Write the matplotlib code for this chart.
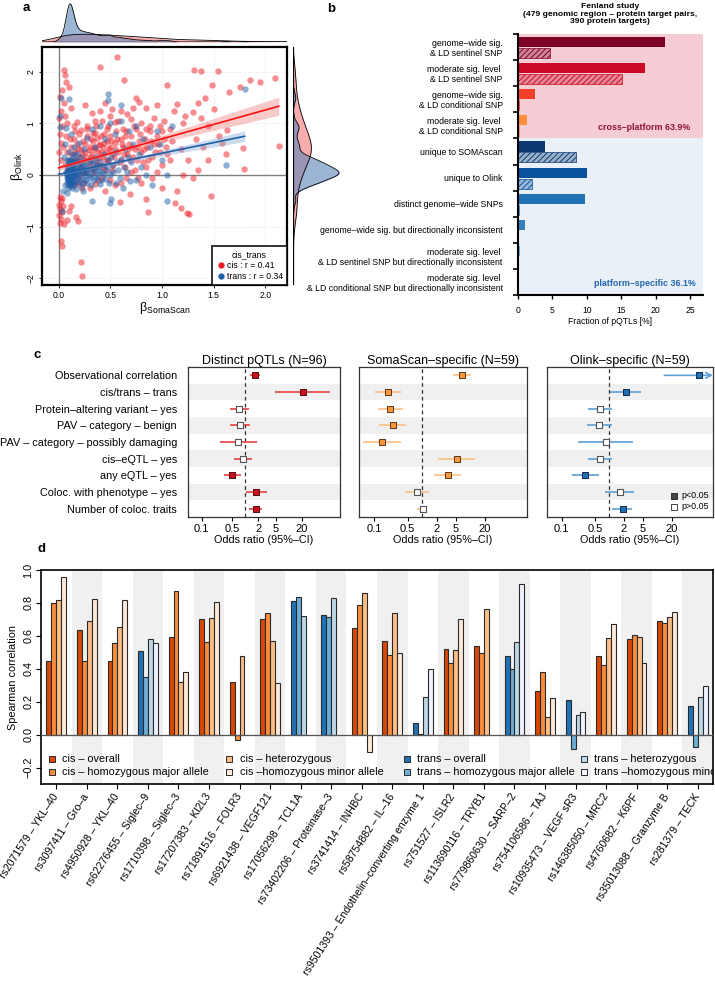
import numpy as np
import matplotlib
matplotlib.use('Agg')
import matplotlib.pyplot as plt
from matplotlib.lines import Line2D
from matplotlib.colors import to_rgba

plt.rcParams['font.family'] = ['Liberation Sans', 'DejaVu Sans']
plt.rcParams['mathtext.fontset'] = 'custom'
plt.rcParams['mathtext.rm'] = 'Liberation Sans'
plt.rcParams['mathtext.it'] = 'Liberation Sans:italic'
plt.rcParams['hatch.linewidth'] = 0.7

# ---------------- Panel a data ----------------
cis_points = [
    (0.57, 2.29), (0.05, 2.03), (0.06, 1.93), (0.07, 1.80), (0.40, 2.10), (1.31, 2.03), (1.38, 2.02), (1.54, 2.02),
    (1.85, 1.84), (1.95, 1.80), (2.09, 1.88), (1.76, 1.70), (1.48, 1.74), (1.05, 1.74), (0.63, 1.85), (1.65, 1.60),
    (1.42, 1.50), (2.13, 0.56), (1.78, 0.52), (1.79, 0.12), (1.63, 0.88), (1.26, -0.75), (1.24, -0.74), (1.13, -0.55),
    (1.18, -0.63), (0.87, -0.72), (0.85, -0.47), (0.69, -0.37), (0.59, -0.52), (0.22, -1.68), (0.23, -1.95),
    (0.02, -1.27), (0.03, -1.37),
    (0.01, -0.42), (0.02, -0.50), (0.00, -0.58), (0.01, -0.66), (0.03, -0.72), (0.00, -0.78), (0.02, -0.85),
    (0.01, -0.92), (0.04, -0.60), (0.03, -0.45), (0.10, -0.70), (0.17, -0.82), (0.19, -0.90), (0.08, -0.88),
    (0.12, -0.60), (0.05, -0.95),
    (0.01, 1.52), (0.02, 1.25), (0.00, 1.10), (0.03, 0.95), (0.01, 0.80), (0.02, 0.62), (0.04, 0.55), (0.00, 0.45),
    (0.05, 1.40), (0.06, 1.15), (0.08, 1.00), (0.10, 1.70), (0.12, 1.30), (0.15, 0.95), (0.03, 1.65), (0.02, 0.30),
    (0.18, 1.02), (0.22, 0.88), (0.28, 0.95), (0.35, 1.05), (0.33, 0.82), (0.40, 1.25), (0.45, 1.40), (0.48, 0.95),
    (0.52, 1.28), (0.55, 1.02), (0.60, 1.25), (0.62, 0.90), (0.70, 1.08), (0.75, 1.50), (0.78, 1.42), (0.80, 1.00),
    (0.85, 1.30), (0.88, 0.85), (0.92, 1.10), (0.95, 1.35), (0.98, 0.95), (1.02, 1.05), (1.08, 0.90), (1.12, 1.25),
    (1.15, 1.38), (1.20, 1.00), (1.22, 1.15), (1.30, 1.22), (1.35, 1.40), (1.38, 1.10), (1.45, 0.95), (1.50, 1.28),
    (1.55, 0.75), (1.58, 0.62), (1.62, 0.40), (1.40, 0.55), (1.33, 0.70), (1.25, 0.30), (1.18, 0.50), (1.10, 0.65),
    (1.05, 0.40), (1.00, 0.20), (0.95, 0.05), (0.90, -0.05), (1.20, 0.00), (1.30, -0.05), (1.35, 0.10), (1.45, 0.30),
    (1.47, -0.40), (1.15, -0.30), (1.00, -0.25), (0.80, -0.15),
    (0.10, 0.30), (0.12, 0.55), (0.14, 0.20), (0.15, 0.70), (0.16, 0.45), (0.18, 0.10), (0.18, 0.60), (0.20, 0.35),
    (0.20, 0.80), (0.22, 0.50), (0.22, 0.15), (0.24, 0.65), (0.25, 0.30), (0.26, 0.45), (0.27, 0.05), (0.28, 0.75),
    (0.30, 0.55), (0.30, 0.25), (0.32, 0.40), (0.33, 0.65), (0.34, 0.15), (0.35, 0.50), (0.36, 0.30), (0.37, 0.72),
    (0.38, 0.45), (0.40, 0.60), (0.40, 0.20), (0.42, 0.35), (0.43, 0.55), (0.44, 0.80), (0.45, 0.10), (0.46, 0.45),
    (0.47, 0.65), (0.48, 0.30), (0.50, 0.55), (0.50, 0.75), (0.52, 0.40), (0.53, 0.20), (0.55, 0.62), (0.56, 0.85),
    (0.58, 0.45), (0.60, 0.30), (0.60, 0.70), (0.62, 0.55), (0.64, 0.15), (0.65, 0.85), (0.66, 0.40), (0.68, 0.60),
    (0.70, 0.75), (0.72, 0.35), (0.74, 0.50), (0.75, 0.90), (0.78, 0.65), (0.80, 0.45), (0.82, 0.25), (0.84, 0.70),
    (0.86, 0.55), (0.88, 0.95), (0.90, 0.35), (0.92, 0.60), (0.95, 0.75), (0.98, 0.45), (1.02, 0.70), (0.12, -0.10),
    (0.15, -0.20), (0.20, -0.05), (0.25, -0.15), (0.30, -0.25), (0.38, -0.10), (0.45, -0.30), (0.55, -0.20),
    (0.65, -0.05), (0.70, 0.05), (0.28, 0.90), (0.32, 1.20), (0.26, 1.35), (0.42, 1.05), (0.50, 1.15), (0.36, 0.95),
    (0.58, 1.05), (0.66, 1.18), (0.72, 1.30), (0.06, 0.20), (0.08, 0.45), (0.09, 0.10), (0.11, 0.70), (0.13, 0.40),
    (0.07, 0.75),
    (0.13, 0.05), (0.17, 0.30), (0.19, 0.50), (0.21, 0.25), (0.23, 0.40), (0.24, 0.05), (0.26, 0.60), (0.27, 0.35),
    (0.29, 0.15), (0.29, 0.48), (0.31, 0.70), (0.31, 0.35), (0.33, 0.05), (0.34, 0.55), (0.35, 0.82), (0.37, 0.20),
    (0.39, 0.58), (0.39, 0.33), (0.41, 0.45), (0.41, 0.75), (0.43, 0.15), (0.44, 0.62), (0.46, 0.30), (0.47, 0.90),
    (0.49, 0.50), (0.51, 0.65), (0.52, 0.10), (0.54, 0.35), (0.55, 0.50), (0.57, 0.70), (0.59, 0.25), (0.61, 0.60),
    (0.63, 0.40), (0.64, 0.75), (0.67, 0.50), (0.69, 0.30), (0.71, 0.55), (0.73, 0.95), (0.76, 0.30), (0.77, 0.55),
    (0.79, 0.80), (0.83, 0.50), (0.85, 0.90), (0.87, 0.30), (0.89, 0.65), (0.93, 0.45), (0.96, 0.60), (1.00, 0.85),
    (1.04, 0.55), (1.08, 0.30), (0.16, 0.85), (0.19, -0.15), (0.23, -0.25), (0.35, -0.18), (0.42, -0.05),
    (0.50, -0.10), (0.60, -0.15), (0.74, 0.10), (0.77, -0.05), (0.85, 0.15),
]
trans_points = [
    (0.08, 0.00), (0.09, 0.10), (0.10, -0.05), (0.10, 0.15), (0.11, 0.05), (0.12, -0.12), (0.12, 0.22), (0.13, 0.02),
    (0.14, 0.10), (0.14, -0.08), (0.15, 0.30), (0.16, 0.00), (0.16, -0.18), (0.17, 0.12), (0.18, 0.05), (0.18, -0.05),
    (0.19, 0.20), (0.20, -0.12), (0.20, 0.08), (0.21, 0.00), (0.22, 0.15), (0.22, -0.22), (0.23, 0.05), (0.24, 0.25),
    (0.24, -0.08), (0.25, 0.10), (0.26, 0.00), (0.27, 0.18), (0.28, -0.15), (0.28, 0.08), (0.30, 0.30), (0.30, -0.05),
    (0.31, 0.12), (0.32, 0.02), (0.33, 0.22), (0.34, -0.10), (0.35, 0.08), (0.36, 0.35), (0.38, 0.00), (0.38, 0.15),
    (0.40, -0.18), (0.40, 0.25), (0.42, 0.05), (0.44, 0.40), (0.45, -0.08), (0.46, 0.18), (0.48, 0.30), (0.50, 0.00),
    (0.52, 0.20), (0.55, 0.45), (0.56, -0.15), (0.58, 0.10), (0.60, 0.32), (0.62, -0.25), (0.64, 0.50), (0.66, 0.05),
    (0.70, 0.25), (0.72, 0.60), (0.75, -0.10), (0.78, 0.40), (0.80, 0.15), (0.82, 0.70), (0.85, 0.00), (0.88, 0.55),
    (0.90, -0.20), (0.95, 0.85), (1.00, 0.30), (1.10, 0.95), (1.05, 0.00), (0.98, 0.60),
    (0.05, 0.35), (0.06, 0.60), (0.07, 0.92), (0.10, 0.45), (0.12, 0.80), (0.15, 0.55), (0.18, 0.40), (0.20, 0.62),
    (0.25, 0.50), (0.28, 0.72), (0.32, 0.90), (0.35, 0.55), (0.40, 0.95), (0.45, 0.70), (0.50, 1.00), (0.55, 0.80),
    (0.60, 1.05), (0.68, 0.85), (0.75, 0.95),
    (0.02, 1.50), (0.10, 1.48), (0.48, 1.56), (0.48, 1.46), (1.80, 1.66), (1.62, 0.20), (1.05, -0.50), (0.50, -0.55),
    (0.51, -0.46), (0.32, -0.51), (0.03, -0.70), (0.01, 1.15), (0.01, 0.93), (0.04, -0.30), (0.06, -0.20),
    (0.08, -0.35), (0.60, 1.35),
    (0.07, 0.05), (0.08, -0.15), (0.09, 0.25), (0.10, -0.20), (0.11, 0.30), (0.12, 0.08), (0.13, -0.25), (0.14, 0.18),
    (0.15, -0.02), (0.16, 0.25), (0.17, -0.12), (0.11, -0.02), (0.13, 0.12), (0.09, 0.05), (0.10, 0.02), (0.12, 0.00),
    (0.14, 0.04), (0.08, 0.08), (0.10, 0.08), (0.11, -0.08), (0.09, -0.03), (0.12, 0.04), (0.13, -0.04), (0.10, 0.00),
    (0.19, 0.00), (0.21, 0.12), (0.23, -0.15), (0.25, 0.20), (0.26, -0.10), (0.27, 0.05), (0.29, 0.25), (0.29, -0.02),
    (0.31, -0.20), (0.33, 0.12), (0.34, 0.30), (0.36, -0.05), (0.37, 0.20), (0.39, 0.08), (0.41, -0.10), (0.43, 0.20),
    (0.44, 0.02), (0.47, 0.10), (0.49, -0.15), (0.51, 0.35), (0.53, 0.05), (0.57, 0.25), (0.59, -0.05), (0.63, 0.15),
    (0.67, 0.35), (0.69, -0.12), (0.18, 0.30), (0.20, 0.22), (0.22, 0.35), (0.24, -0.30), (0.17, -0.28), (0.15, 0.40),
    (0.13, 0.35), (0.11, 0.20), (0.09, -0.25), (0.08, 0.30), (0.10, 0.12), (0.12, 0.15), (0.14, -0.15), (0.16, 0.08),
    (0.09, 0.18), (0.10, -0.10), (0.11, 0.12), (0.12, -0.18), (0.13, 0.20), (0.09, -0.08), (0.10, 0.22), (0.11, -0.15),
    (0.12, 0.28), (0.13, -0.10), (0.14, 0.25), (0.10, 0.05), (0.11, 0.10), (0.12, -0.05), (0.13, 0.06), (0.09, 0.14),
    (0.10, -0.14), (0.11, 0.00), (0.12, 0.10), (0.13, -0.18), (0.14, -0.02), (0.08, 0.04), (0.09, -0.10), (0.10, 0.18),
    (0.11, -0.05), (0.12, 0.20), (0.13, 0.00), (0.14, 0.14), (0.10, -0.02), (0.11, 0.16), (0.12, -0.22), (0.13, 0.26),
    (0.08, -0.05), (0.09, 0.00), (0.10, 0.10), (0.11, 0.04),
]
cis_fit = [0.14, 0.56, 2.13]        # intercept, slope, x-extent
trans_fit = [0.013, 0.41, 1.80]
cis_band = [0.035, 0.10, 0.40]      # half-width at centre, growth, centre
trans_band = [0.02, 0.065, 0.25]
legend_a = ['cis : r = 0.41', 'trans : r = 0.34']

# ---------------- Panel b data ----------------
b_categories = [
    'genome\u2013wide sig.\n& LD sentinel SNP',
    'moderate sig. level \n& LD sentinel SNP',
    'genome\u2013wide sig.\n& LD conditional SNP',
    'moderate sig. level \n& LD conditional SNP',
    'unique to SOMAscan',
    'unique to Olink',
    'distinct genome\u2013wide SNPs',
    'genome\u2013wide sig. but directionally inconsistent',
    'moderate sig. level \n& LD sentinel SNP but directionally inconsistent',
    'moderate sig. level \n& LD conditional SNP but directionally inconsistent',
]
b_solid = [21.4, 18.5, 2.4, 1.35, 3.9, 10.1, 9.75, 0.95, 0.3, 0.1]
b_hatched = [4.6, 15.1, 0.15, 0.2, 8.4, 2.1, 0.2, 0.0, 0.0, 0.0]
b_colors = ['#7E0025', '#CB0A26', '#F4402A', '#FD8D3C', '#0B3A73', '#08519C',
            '#2171B5', '#3182BD', '#6BAED6', '#9ECAE1']

# ---------------- Panel c data ----------------
c_rows = ['Observational correlation', 'cis/trans \u2013 trans', 'Protein\u2013altering variant \u2013 yes',
          'PAV \u2013 category \u2013 benign', 'PAV \u2013 category \u2013 possibly damaging', 'cis\u2013eQTL \u2013 yes',
          'any eQTL \u2013 yes', 'Coloc. with phenotype \u2013 yes', 'Number of coloc. traits']
distinct_or = [1.71, 20.6, 0.72, 0.75, 0.70, 0.89, 0.51, 1.74, 1.74]
distinct_lo = [1.27, 4.85, 0.457, 0.44, 0.26, 0.55, 0.32, 1.03, 1.22]
distinct_hi = [2.23, 87.0, 1.22, 1.27, 1.9, 1.46, 0.78, 3.2, 2.48]
distinct_sig = [1, 1, 0, 0, 0, 0, 1, 1, 1]
soma_or = [6.65, 0.195, 0.22, 0.25, 0.146, 5.2, 3.36, 0.78, 1.02]
soma_lo = [4.33, 0.103, 0.12, 0.13, 0.059, 2.13, 1.73, 0.44, 0.78]
soma_hi = [10.2, 0.355, 0.40, 0.47, 0.37, 12.5, 6.4, 1.4, 1.26]
soma_sig = [1, 1, 1, 1, 1, 1, 1, 0, 0]
olink_or = [77.0, 2.22, 0.635, 0.605, 0.83, 0.635, 0.31, 1.64, 1.89]
olink_lo = [14.1, 1.04, 0.36, 0.33, 0.22, 0.36, 0.165, 0.81, 1.13]
olink_hi = [500.0, 4.57, 1.13, 1.13, 3.05, 1.13, 0.59, 3.2, 2.97]
olink_sig = [1, 1, 0, 0, 0, 0, 1, 0, 1]
c_titles = ['Distinct pQTLs (N=96)', 'SomaScan\u2013specific (N=59)', 'Olink\u2013specific (N=59)']
c_ticks = [0.1, 0.5, 2, 5, 20]

# ---------------- Panel d data ----------------
d_labels = ['rs2071579 \u2013 YKL\u201340', 'rs3097411 \u2013 Gro\u2013a', 'rs4950928 \u2013 YKL\u201340',
            'rs62276455 \u2013 Siglec\u20139', 'rs1710398 \u2013 Siglec\u20133', 'rs17207383 \u2013 Kl2L3',
            'rs71891516 \u2013 FOLR3', 'rs6921438 \u2013 VEGF121', 'rs17056298 \u2013 TCL1A',
            'rs73402206 \u2013 Proteinase\u20133', 'rs3741414 \u2013 INHBC', 'rs58754882 \u2013 IL\u201316',
            'rs9501393 \u2013 Endothelin\u2013converting enzyme 1', 'rs751527 \u2013 ISLR2', 'rs113690116 \u2013 TRYB1',
            'rs779860630 \u2013 SARP\u20132', 'rs754106586 \u2013 TAJ', 'rs10935473 \u2013 VEGF sR3',
            'rs146385050 \u2013 MRC2', 'rs4760682 \u2013 K6PF', 'rs35013088 \u2013 Granzyme B', 'rs281379 \u2013 TECK']
d_type = ['cis', 'cis', 'cis', 'trans', 'cis', 'cis', 'cis', 'cis', 'trans', 'trans', 'cis',
          'cis', 'trans', 'cis', 'cis', 'trans', 'cis', 'trans', 'cis', 'cis', 'cis', 'trans']
nan = np.nan
d_overall = [0.45, 0.636, 0.45, 0.509, 0.596, 0.705, 0.319, 0.703, 0.814, 0.727, 0.646,
             0.571, 0.068, 0.521, 0.541, 0.476, 0.264, 0.208, 0.48, 0.582, 0.691, 0.171]
d_hom_major = [0.80, 0.446, 0.557, 0.347, 0.875, 0.561, -0.03, 0.737, 0.834, 0.717, 0.79,
               0.485, 0.006, 0.436, 0.495, 0.398, 0.382, -0.085, 0.424, 0.604, 0.679, -0.075]
d_het = [0.82, 0.693, 0.652, 0.578, 0.319, 0.709, 0.475, 0.567, 0.721, 0.83, 0.858,
         0.739, 0.23, 0.511, 0.764, 0.564, 0.105, 0.117, 0.586, 0.592, 0.717, 0.226]
d_hom_minor = [0.955, 0.824, 0.82, 0.557, 0.378, 0.806, nan, 0.313, nan, nan, -0.105,
               0.497, 0.398, 0.703, nan, 0.915, 0.224, 0.139, 0.67, 0.436, 0.747, 0.293]
d_legend = [['cis \u2013 overall', 'cis \u2013 homozygous major allele'],
            ['cis \u2013 heterozygous', 'cis \u2013homozygous minor allele'],
            ['trans \u2013 overall', 'trans \u2013 homozygous major allele'],
            ['trans \u2013 heterozygous', 'trans \u2013homozygous minor allele']]
cis_cols = ['#D94801', '#FD8D3C', '#FDBE85', '#FEE8D6']
trans_cols = ['#2171B5', '#6BAED6', '#BDD7E7', '#EFF3FF']

# ---------------- Figure ----------------
W, H = 715, 991
fig = plt.figure(figsize=(W / 100, H / 100), dpi=100)


def add_ax(x0, y0, x1, y1):
    return fig.add_axes([x0 / W, 1 - y1 / H, (x1 - x0) / W, (y1 - y0) / H])


RED = '#EE1C25'
BLUE = '#1F5FA8'

# ---- Panel a ----
ax = add_ax(42, 47, 287, 285)
cis = np.array(cis_points)
tr = np.array(trans_points)
ax.set_xlim(-0.16, 2.21)
ax.set_ylim(-2.13, 2.48)
ax.grid(True, color='#E3E3E3', lw=0.5, ls=(0, (2, 2)))
ax.set_axisbelow(True)
ax.axhline(0, color='#7F7F7F', lw=1.0, zorder=1)
ax.axvline(0, color='#7F7F7F', lw=1.0, zorder=1)
ax.scatter(cis[:, 0], cis[:, 1], s=21, color=RED, alpha=0.5, lw=0, zorder=2)
ax.scatter(tr[:, 0], tr[:, 1], s=21, color=BLUE, alpha=0.5, lw=0, zorder=2)
for fit, band, col, bcol in [(cis_fit, cis_band, '#FF1010', '#F08A8A'), (trans_fit, trans_band, BLUE, '#8FB0D8')]:
    xx = np.linspace(0, fit[2], 100)
    yy = fit[0] + fit[1] * xx
    hw = np.sqrt(band[0] ** 2 + (band[1] * (xx - band[2])) ** 2)
    ax.fill_between(xx, yy - hw, yy + hw, color=bcol, alpha=0.45, lw=0, zorder=3)
    ax.plot(xx, yy, color=col, lw=1.2, zorder=4)
ax.set_xticks([0, 0.5, 1.0, 1.5, 2.0])
ax.set_xticklabels(['0.0', '0.5', '1.0', '1.5', '2.0'])
ax.set_yticks([-2, -1, 0, 1, 2])
ax.set_yticklabels(['\u22122', '\u22121', '0', '1', '2'], rotation=90, va='center')
ax.tick_params(labelsize=6.2, length=2.5, width=0.6, pad=2)
for s in ax.spines.values():
    s.set_linewidth(1.6)
ax.set_xlabel(r'$\mathrm{β}_{\mathrm{SomaScan}}$', fontsize=9, labelpad=0)
ax.set_ylabel(r'$\mathrm{β}_{\mathrm{Olink}}$', fontsize=9, labelpad=1)
handles = [Line2D([], [], marker='o', ls='', color=RED, ms=3.5),
           Line2D([], [], marker='o', ls='', color=BLUE, ms=3.5)]
leg = ax.legend(handles, legend_a, title='cis_trans', loc='lower right', fontsize=6.2, title_fontsize=6.2,
                frameon=True, fancybox=False, edgecolor='black', borderaxespad=0, handletextpad=0.1,
                borderpad=0.45, labelspacing=0.25, handlelength=1.2)
leg.get_frame().set_linewidth(1.4)


def kde(vals, grid, bw):
    z = (grid[:, None] - vals[None, :]) / bw
    return np.exp(-0.5 * z ** 2).sum(1) / (len(vals) * bw * np.sqrt(2 * np.pi))


axt = add_ax(42, 3, 287, 42)
gx = np.linspace(-0.16, 2.21, 400)
dcx = kde(cis[:, 0], gx, 0.13)
dtx = kde(tr[:, 0], gx, 0.03)
axt.fill_between(gx, 0, dcx, color='#F26B6B', alpha=0.55, lw=0)
axt.fill_between(gx, 0, dtx, color='#5C85BA', alpha=0.6, lw=0)
axt.plot(gx, dcx, color='black', lw=0.6)
axt.plot(gx, dtx, color='black', lw=0.6)
axt.axhline(0, color='black', lw=0.9)
axt.set_xlim(-0.16, 2.21)
axt.set_ylim(0, max(dcx.max(), dtx.max()) * 1.02)
axt.axis('off')

axr = add_ax(293, 47, 340, 285)
gy = np.linspace(-2.13, 2.48, 400)
dcy = kde(cis[:, 1], gy, 0.22)
dty = kde(tr[:, 1], gy, 0.07)
axr.fill_betweenx(gy, 0, dcy, color='#F26B6B', alpha=0.55, lw=0)
axr.fill_betweenx(gy, 0, dty, color='#5C85BA', alpha=0.6, lw=0)
axr.plot(dcy, gy, color='black', lw=0.6)
axr.plot(dty, gy, color='black', lw=0.6)
axr.axvline(0, color='black', lw=0.9)
axr.set_ylim(-2.13, 2.48)
axr.set_xlim(0, max(dcy.max(), dty.max()) * 1.02)
axr.axis('off')

# ---- Panel b ----
axb = add_ax(518, 34, 703, 295)
axb.set_xlim(0, 26.9)
axb.set_ylim(10, 0)
axb.axhspan(0, 4, color='#F6CCD4', lw=0, zorder=0)
axb.axhspan(4, 10, color='#E9F0F8', lw=0, zorder=0)
ypos = np.arange(len(b_categories))
axb.barh(ypos + 0.31, b_solid, height=0.385, color=b_colors, lw=0, zorder=2)
axb.barh(ypos + 0.73, b_hatched, height=0.385, color=[to_rgba(c, 0.35) for c in b_colors],
         edgecolor=b_colors, hatch='//////', lw=0.5, zorder=2)
axb.set_yticks(ypos + 0.5)
axb.set_yticklabels(b_categories, fontsize=6.3, linespacing=1.15)
axb.set_yticks(np.arange(len(b_categories) + 1), minor=True)
axb.tick_params(axis='y', which='major', length=0, pad=11)
axb.tick_params(axis='y', which='minor', length=3.5, width=1.2)
axb.set_xticks([0, 5, 10, 15, 20, 25])
axb.tick_params(axis='x', labelsize=6.2, length=3, width=1.0, pad=5)
for lab in axb.get_yticklabels():
    lab.set_multialignment('right')
for s in ['top', 'right']:
    axb.spines[s].set_visible(False)
axb.spines['left'].set_linewidth(1.5)
axb.spines['bottom'].set_linewidth(1.5)
axb.set_xlabel('Fraction of pQTLs [%]', fontsize=6.2, labelpad=1)
axb.text(25.0, 3.6, 'cross\u2013platform 63.9%', color='#8E1538', fontsize=6.4, weight='bold',
         ha='right', va='center')
axb.text(25.8, 9.55, 'platform\u2013specific 36.1%', color='#2368B0', fontsize=6.4, weight='bold',
         ha='right', va='center')
fig.text(610 / W, 1 - 14 / H, 'Fenland study\n(479 genomic region \u2013 protein target pairs,\n390 protein targets)',
         ha='center', va='center', fontsize=6.1, weight='bold', linespacing=1.15)

# ---- Panel c ----
c_boxes = [(188, 340), (359, 527), (547, 713)]
c_data = [(distinct_or, distinct_lo, distinct_hi, distinct_sig, '#E8403F', '#C8101E', '#5A0A0A'),
          (soma_or, soma_lo, soma_hi, soma_sig, '#FDBF82', '#F7963A', '#5A3510'),
          (olink_or, olink_lo, olink_hi, olink_sig, '#5CA0D6', '#1F6FB2', '#0C2A4A')]
xmin_c, xmax_c = 10 ** -1.31, 10 ** 2.17
rows = np.arange(1, len(c_rows) + 1)
for k, ((x0, x1), (orv, lo, hi, sig, lcol, fcol, ecol), title) in enumerate(zip(c_boxes, c_data, c_titles)):
    axc = add_ax(x0, 367, x1, 517)
    axc.set_xscale('log')
    axc.set_xlim(xmin_c, xmax_c)
    axc.set_ylim(9.5, 0.5)
    for r in rows:
        if r % 2 == 0:
            axc.axhspan(r - 0.5, r + 0.5, color='#F0F0F0', lw=0, zorder=0)
    axc.axvline(1, color='#333333', lw=0.9, ls=(0, (3, 2.5)), zorder=1)
    for r, o, l, h, s in zip(rows, orv, lo, hi, sig):
        hh = min(h, xmax_c)
        if h > xmax_c:
            axc.annotate('', xy=(xmax_c, r), xytext=(l, r),
                         arrowprops=dict(arrowstyle='->', color=lcol, lw=1.2, shrinkA=0, shrinkB=0),
                         annotation_clip=False, zorder=2)
        else:
            axc.plot([l, hh], [r, r], color=lcol, lw=1.2, zorder=2, solid_capstyle='butt')
        if s:
            axc.scatter([o], [r], marker='s', s=18, facecolor=fcol, edgecolor=ecol, lw=0.7, zorder=3)
        else:
            axc.scatter([o], [r], marker='s', s=18, facecolor='white', edgecolor='#555555', lw=0.8, zorder=3)
    axc.set_xticks(c_ticks)
    axc.set_xticklabels([str(t) for t in c_ticks])
    axc.xaxis.set_minor_locator(matplotlib.ticker.NullLocator())
    axc.tick_params(axis='x', labelsize=8, length=3, width=0.8, pad=2)
    axc.set_yticks(rows)
    if k == 0:
        axc.set_yticklabels(c_rows, fontsize=7.8)
        axc.tick_params(axis='y', length=0, pad=8)
    else:
        axc.set_yticklabels([])
        axc.tick_params(axis='y', length=0)
    for s in axc.spines.values():
        s.set_linewidth(0.9)
        s.set_color('#333333')
    axc.set_title(title, fontsize=9, pad=2)
    axc.set_xlabel('Odds ratio (95%\u2013CI)', fontsize=7.8, labelpad=1)
    if k == 2:
        axc.scatter([0.766], [0.14], marker='s', s=16, facecolor='#444444', edgecolor='#222222', lw=0.6,
                    transform=axc.transAxes, zorder=4)
        axc.scatter([0.766], [0.067], marker='s', s=16, facecolor='white', edgecolor='#444444', lw=0.7,
                    transform=axc.transAxes, zorder=4)
        axc.text(0.81, 0.14, 'p<0.05', fontsize=6.4, va='center', transform=axc.transAxes)
        axc.text(0.81, 0.067, 'p>0.05', fontsize=6.4, va='center', transform=axc.transAxes)

# ---- Panel d ----
axd = add_ax(41, 570, 713, 784)
n = len(d_labels)
gxs = np.arange(1, n + 1)
axd.set_xlim(0.5, n + 0.5)
axd.set_ylim(-0.3, 1.0)
for g in gxs:
    if g % 2 == 0:
        axd.axvspan(g - 0.5, g + 0.5, color='#F0F0F0', lw=0, zorder=0)
series = [d_overall, d_hom_major, d_het, d_hom_minor]
bw = 0.16
for j, vals in enumerate(series):
    cols = [cis_cols[j] if t == 'cis' else trans_cols[j] for t in d_type]
    v = np.array(vals, dtype=float)
    ok = ~np.isnan(v)
    axd.bar(gxs[ok] + (j - 1.5) * bw, v[ok], width=bw, color=np.array(cols)[ok],
            edgecolor='#2A2A2A', lw=0.8, zorder=2)
axd.axhline(0, color='#555555', lw=0.9, zorder=3)
axd.set_xticks(gxs)
axd.set_xticklabels(d_labels, rotation=57, ha='right', va='center', rotation_mode='anchor', fontsize=7.6)
axd.tick_params(axis='x', length=3.5, width=0.8, pad=4)
yt = [-0.2, 0.0, 0.2, 0.4, 0.6, 0.8, 1.0]
axd.set_yticks(yt)
axd.set_yticklabels(['\u22120.2', '0.0', '0.2', '0.4', '0.6', '0.8', '1.0'], rotation=90, va='center',
                    fontsize=7.8)
axd.tick_params(axis='y', length=3.5, width=0.8, pad=2)
axd.set_ylabel('Spearman correlation', fontsize=7.8, labelpad=4)
for s in axd.spines.values():
    s.set_linewidth(1.2)
col_x = [0.016, 0.280, 0.544, 0.808]
row_y = [0.115, 0.057]
for ci, pair in enumerate(d_legend):
    for ri, lab in enumerate(pair):
        idx = (ci % 2) * 2 + ri
        col = cis_cols[idx] if ci < 2 else trans_cols[idx]
        axd.scatter([col_x[ci]], [row_y[ri]], marker='s', s=18, facecolor=col, edgecolor='#2A2A2A', lw=0.7,
                    transform=axd.transAxes, zorder=5, clip_on=True)
        axd.text(col_x[ci] + 0.0155, row_y[ri], lab, fontsize=7.8, va='center', ha='left',
                 transform=axd.transAxes, clip_on=True, zorder=5)

# ---- Panel letters ----
for letter, (px, py) in {'a': (26, 8), 'b': (331, 9), 'c': (37, 355), 'd': (42, 549)}.items():
    fig.text(px / W, 1 - py / H, letter, fontsize=9.5, weight='bold', ha='center', va='center')

fig.savefig('out.png', dpi=100)
